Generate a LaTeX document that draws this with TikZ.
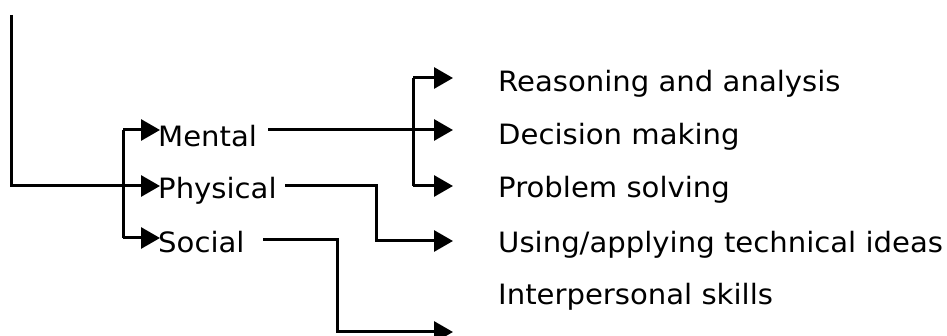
\documentclass[tikz,border=0pt]{standalone}
\usepackage{fontspec}
\setmainfont[FakeStretch=1.04]{DejaVu Sans}
\usetikzlibrary{arrows.meta}
\begin{document}
\begin{tikzpicture}[x=1pt,y=-1pt,
  conn/.style={line width=3pt,line join=miter},
  arr/.style={conn,-{Triangle[length=19pt,width=21pt]}},
  lbl/.style={anchor=base west,inner sep=0pt,font=\fontsize{28}{34}\selectfont}]
\useasboundingbox (0,0) rectangle (947,336);
% labels
\node[lbl] (mental) at (158,147) {Mental};
\node[lbl] (physical) at (158,199) {Physical};
\node[lbl] (social) at (158,253) {Social};
\node[lbl] (reason) at (498,92) {Reasoning and analysis};
\node[lbl] (decision) at (498,145) {Decision making};
\node[lbl] (problem) at (498,198) {Problem solving};
\node[lbl] (using) at (498,253) {Using/applying technical ideas};
\node[lbl] (inter) at (498,305) {Interpersonal skills};
% coordinates
\coordinate (top) at (11.5,15);
\coordinate (corner) at (11.5,186);
\coordinate (aM) at (160,130);
\coordinate (aP) at (160,186);
\coordinate (aS) at (160,238);
\coordinate (bTop) at (123,130);
\coordinate (bBot) at (123,238);
\coordinate (mS) at (268,130);
\coordinate (pS) at (285,186);
\coordinate (sS) at (263,240);
\coordinate (aR) at (453,78);
\coordinate (aD) at (453,130);
\coordinate (aPr) at (453,186);
\coordinate (aU) at (453,241);
\coordinate (aI) at (453,332);
\coordinate (cTop) at (413,78);
\coordinate (cBot) at (413,186);
% connectors
\draw[arr] (top) -- (corner) -- (aP);
\draw[conn] (bTop) -- (bBot);
\draw[arr] (bTop) -- (aM);
\draw[arr] (bBot) -- (aS);
\draw[arr] (mS) -- (aD);
\draw[conn] (cTop) -- (cBot);
\draw[arr] (cTop) -- (aR);
\draw[arr] (cBot) -- (aPr);
\draw[arr] (pS) -| (376,241) -- (aU);
\draw[arr] (sS) -| (337,332) -- (aI);
\end{tikzpicture}
\end{document}
